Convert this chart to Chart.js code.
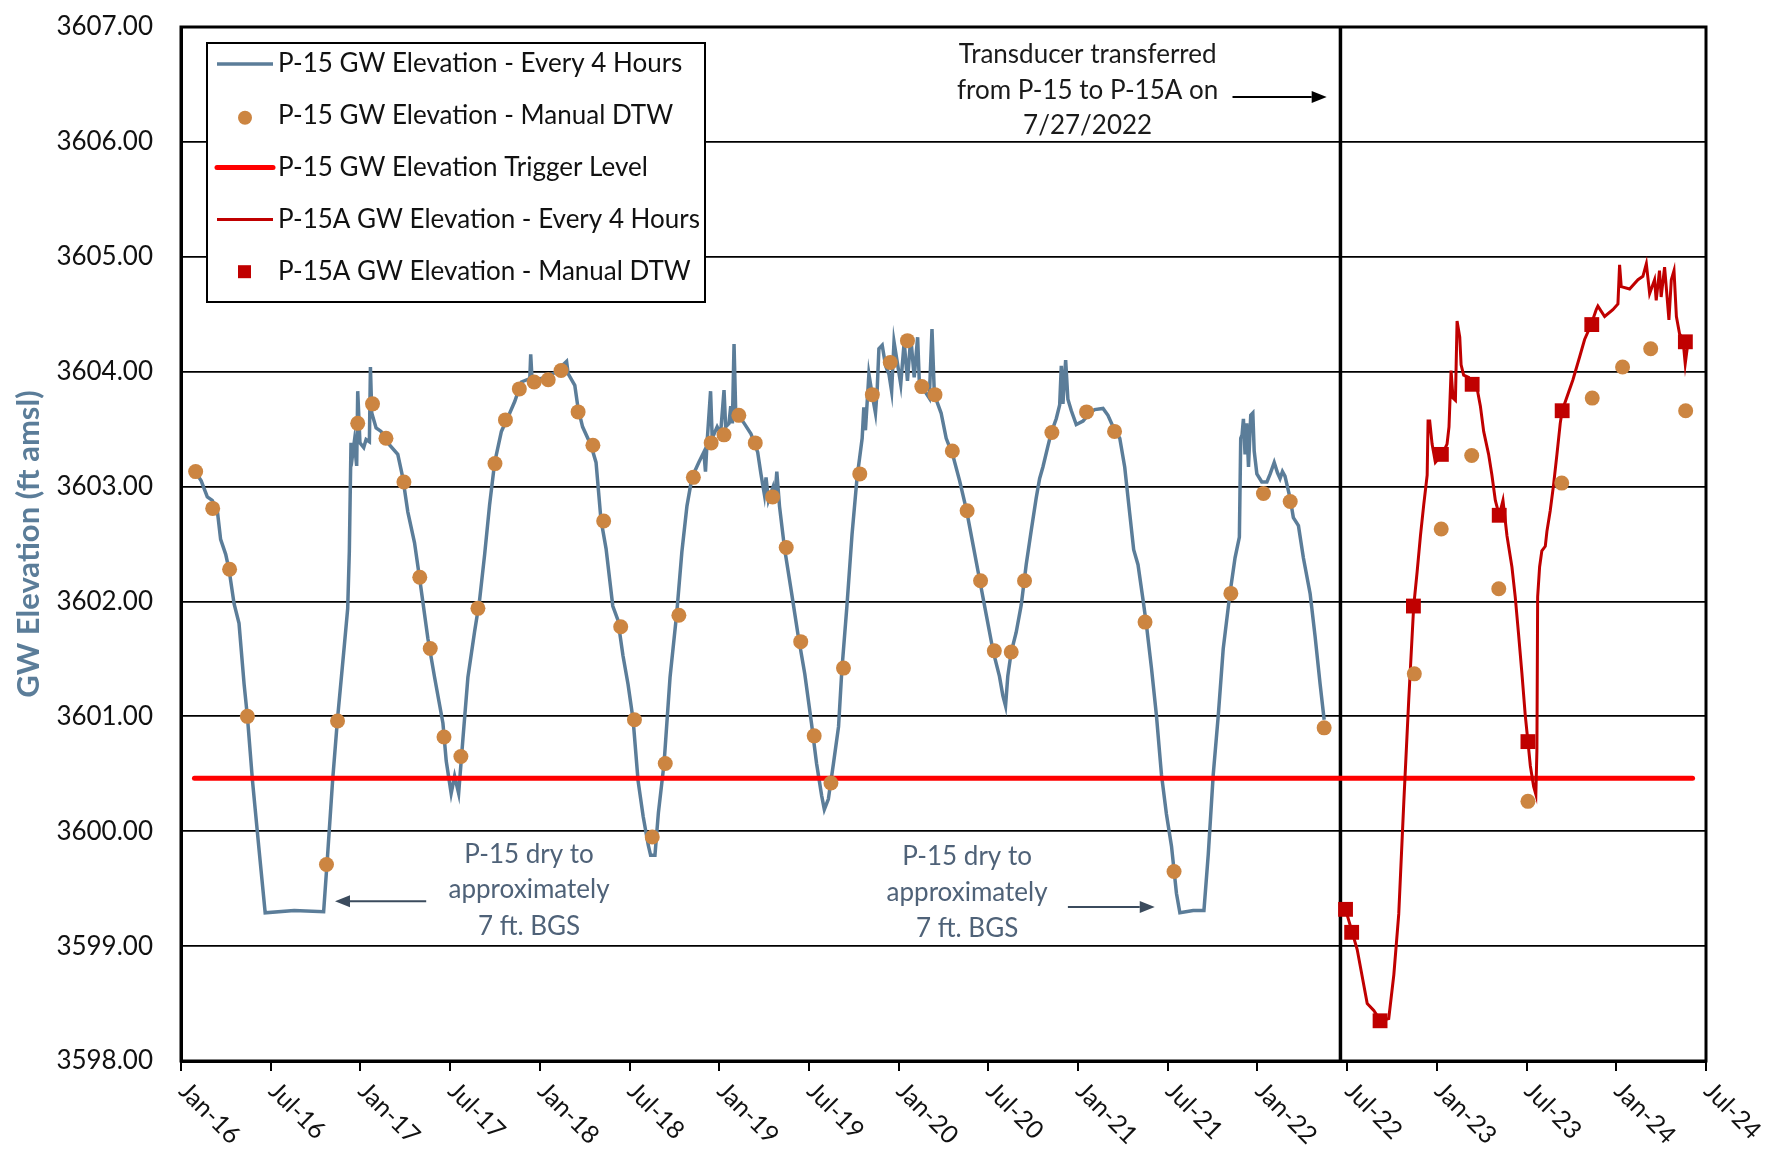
<!DOCTYPE html>
<html>
<head>
<meta charset="utf-8">
<title>P-15 / P-15A GW Elevation</title>
<script src="https://cdn.jsdelivr.net/npm/chart.js@4.4.1/dist/chart.umd.min.js"></script>
<style>
  html, body { margin: 0; padding: 0; background: #fff; }
  #wrap { width: 1766px; height: 1153px; }
</style>
</head>
<body>
<div id="wrap"><canvas id="chart" width="1766" height="1153"></canvas></div>
<script>
// ── Data ─────────────────────────────────────────────────
// x values are months since Jan-2016 (0 = Jan-16, 102 = Jul-24)
const tickLabels = [
  "Jan-16", "Jul-16", "Jan-17", "Jul-17", "Jan-18", "Jul-18",
  "Jan-19", "Jul-19", "Jan-20", "Jul-20", "Jan-21", "Jul-21",
  "Jan-22", "Jul-22", "Jan-23", "Jul-23", "Jan-24", "Jul-24",
];

// P-15 transducer, every 4 hours (traced)
const p15LoggerMonth = [
  1.00, 1.35, 1.76, 2.09, 2.43, 2.65, 2.99, 3.21, 3.55, 3.88, 4.22, 4.44, 4.78, 5.22, 5.63,
  7.57, 9.54, 9.80, 10.14, 10.47, 10.92, 11.15, 11.26, 11.37, 11.48, 11.59, 11.75, 11.82, 11.97,
  12.22, 12.38, 12.60, 12.67, 12.76, 13.05, 13.38, 13.83, 14.50, 14.83, 15.17, 15.62, 15.95,
  16.51, 16.96, 17.52, 17.74, 18.07, 18.30, 18.57, 18.86, 19.19, 19.64, 19.97, 20.31, 20.64,
  20.98, 21.43, 21.99, 22.32, 22.77, 23.33, 23.39, 23.48, 24.11, 25.00, 25.79, 25.90, 26.34,
  26.56, 26.86, 27.42, 27.76, 28.09, 28.43, 28.88, 29.22, 29.56, 29.90, 30.24, 30.57, 30.91,
  31.25, 31.41, 31.70, 31.93, 32.31, 32.71, 33.16, 33.50, 33.84, 34.18, 34.63, 34.97, 35.08,
  35.19, 35.42, 35.53, 35.86, 36.09, 36.32, 36.43, 36.65, 36.77, 36.88, 36.99, 37.10, 37.67,
  38.12, 38.57, 38.79, 39.02, 39.13, 39.29, 39.58, 39.70, 39.85, 40.03, 40.37, 40.82, 41.27,
  41.72, 42.17, 42.51, 42.85, 43.03, 43.30, 43.64, 43.98, 44.20, 44.54, 44.88, 45.22, 45.56,
  45.67, 45.78, 46.01, 46.23, 46.45, 46.56, 46.68, 46.90, 47.13, 47.35, 47.53, 47.69, 47.91,
  48.14, 48.37, 48.59, 48.81, 49.04, 49.27, 49.38, 49.60, 50.05, 50.23, 50.39, 50.84, 51.18,
  51.63, 52.08, 52.53, 52.98, 53.43, 53.88, 54.33, 54.74, 54.97, 55.15, 55.30, 55.53, 55.86,
  56.20, 56.53, 56.87, 57.20, 57.43, 57.65, 57.98, 58.21, 58.54, 58.77, 58.88, 58.99, 59.17,
  59.32, 59.55, 59.88, 60.33, 60.78, 61.11, 61.67, 62.00, 62.34, 62.79, 63.12, 63.46, 63.72,
  64.01, 64.35, 64.57, 64.91, 65.24, 65.58, 65.91, 66.25, 66.58, 66.81, 67.70, 68.42, 68.71,
  69.04, 69.38, 69.71, 70.16, 70.50, 70.79, 70.88, 70.97, 71.06, 71.17, 71.28, 71.40, 71.55,
  71.69, 71.78, 71.96, 72.29, 72.63, 72.85, 73.12, 73.34, 73.51, 73.67, 73.84, 74.18, 74.40,
  74.74, 75.07, 75.52, 75.85, 76.19, 76.46,
];
const p15LoggerElev = [
  3603.12, 3603.05, 3602.91, 3602.88, 3602.79, 3602.54, 3602.41, 3602.28, 3601.98, 3601.81, 3601.28, 3601.00, 3600.44, 3599.84, 3599.29,
  3599.31, 3599.30, 3599.78, 3600.44, 3600.98, 3601.61, 3601.94, 3602.44, 3603.38, 3603.28, 3603.39, 3603.18, 3603.83, 3603.38,
  3603.34, 3603.41, 3603.39, 3604.04, 3603.64, 3603.51, 3603.48, 3603.38, 3603.28, 3603.08, 3602.78, 3602.51, 3602.21,
  3601.68, 3601.34, 3600.94, 3600.61, 3600.33, 3600.48, 3600.33, 3600.81, 3601.34, 3601.74, 3602.01, 3602.41, 3602.84,
  3603.21, 3603.48, 3603.64, 3603.74, 3603.91, 3603.94, 3604.15, 3603.93, 3603.94, 3603.99, 3604.09, 3603.98, 3603.88,
  3603.68, 3603.52, 3603.36, 3603.21, 3602.71, 3602.46, 3601.96, 3601.84, 3601.53, 3601.28, 3600.97, 3600.44, 3600.13,
  3599.88, 3599.79, 3599.79, 3600.16, 3600.59, 3601.34, 3601.90, 3602.43, 3602.83, 3603.08, 3603.21, 3603.30, 3603.13,
  3603.39, 3603.83, 3603.42, 3603.52, 3603.46, 3603.84, 3603.52, 3603.55, 3603.70, 3603.55, 3604.24, 3603.66, 3603.55,
  3603.46, 3603.30, 3603.11, 3602.93, 3603.08, 3602.88, 3602.99, 3602.86, 3603.13, 3602.83, 3602.46, 3602.09, 3601.71,
  3601.37, 3600.94, 3600.59, 3600.31, 3600.19, 3600.28, 3600.59, 3600.91, 3601.40, 3601.96, 3602.58, 3603.08, 3603.42,
  3603.69, 3603.49, 3603.98, 3603.80, 3603.64, 3603.83, 3604.20, 3604.23, 3604.05, 3603.98, 3603.83, 3604.26, 3604.08,
  3603.89, 3604.26, 3603.92, 3604.30, 3603.95, 3604.30, 3603.92, 3603.86, 3603.77, 3604.37, 3603.80, 3603.64, 3603.42,
  3603.27, 3603.05, 3602.80, 3602.49, 3602.18, 3601.87, 3601.56, 3601.35, 3601.18, 3601.09, 3601.35, 3601.56, 3601.73,
  3601.97, 3602.32, 3602.62, 3602.90, 3603.07, 3603.17, 3603.35, 3603.47, 3603.59, 3603.71, 3604.05, 3603.72, 3604.10,
  3603.76, 3603.66, 3603.54, 3603.57, 3603.64, 3603.67, 3603.68, 3603.62, 3603.52, 3603.42, 3603.17, 3602.76, 3602.45,
  3602.32, 3602.01, 3601.80, 3601.42, 3601.01, 3600.49, 3600.15, 3599.87, 3599.46, 3599.29, 3599.31, 3599.31, 3599.80,
  3600.49, 3601.01, 3601.59, 3602.07, 3602.38, 3602.56, 3603.42, 3603.45, 3603.59, 3603.28, 3603.55, 3603.17, 3603.62,
  3603.64, 3603.31, 3603.11, 3603.04, 3603.04, 3603.11, 3603.21, 3603.12, 3603.07, 3603.13, 3603.09, 3602.90, 3602.73,
  3602.66, 3602.38, 3602.07, 3601.70, 3601.28, 3600.97,
];

// P-15 manual depth-to-water readings
const p15ManualMonth = [
  0.98, 2.12, 3.25, 4.44, 9.73, 10.47, 11.82, 12.81, 13.71, 14.91, 15.97, 16.67, 17.59, 18.72,
  19.86, 21.00, 21.70, 22.63, 23.62, 24.56, 25.42, 26.56, 27.55, 28.27, 29.41, 30.33, 31.52,
  32.39, 33.30, 34.27, 35.46, 36.32, 37.31, 38.41, 39.57, 40.48, 41.45, 42.35, 43.47, 44.31,
  45.40, 46.24, 47.44, 48.59, 49.55, 50.43, 51.59, 52.58, 53.48, 54.40, 55.53, 56.42, 58.25,
  60.57, 62.44, 64.48, 66.42, 70.22, 72.40, 74.19, 76.46, 82.49, 84.29, 86.33, 88.14, 90.09,
  92.35, 94.39, 96.42, 98.30, 100.64,
];
const p15ManualElev = [
  3603.13, 3602.81, 3602.28, 3601.00, 3599.71, 3600.96, 3603.55, 3603.72, 3603.42, 3603.04, 3602.21, 3601.59, 3600.82, 3600.65,
  3601.94, 3603.20, 3603.58, 3603.85, 3603.91, 3603.93, 3604.01, 3603.65, 3603.36, 3602.70, 3601.78, 3600.97, 3599.95,
  3600.59, 3601.88, 3603.08, 3603.38, 3603.45, 3603.62, 3603.38, 3602.91, 3602.47, 3601.65, 3600.83, 3600.42, 3601.42,
  3603.11, 3603.80, 3604.08, 3604.27, 3603.87, 3603.80, 3603.31, 3602.79, 3602.18, 3601.57, 3601.56, 3602.18, 3603.47,
  3603.65, 3603.48, 3601.82, 3599.65, 3602.07, 3602.94, 3602.87, 3600.90, 3601.37, 3602.63, 3603.27, 3602.11, 3600.26,
  3603.03, 3603.77, 3604.04, 3604.20, 3603.66,
];

// P-15 trigger level
const triggerMonth = [0.9, 101.1];
const triggerElev = [3600.46, 3600.46];

// P-15A transducer, every 4 hours (traced)
const p15aLoggerMonth = [
  77.89, 78.34, 78.67, 79.34, 79.78, 80.23, 80.78, 81.12, 81.45, 81.79, 82.12, 82.45, 82.68,
  82.90, 83.12, 83.35, 83.41, 83.52, 83.68, 83.90, 84.35, 84.68, 84.81, 84.95, 85.08, 85.24,
  85.35, 85.53, 85.62, 85.79, 86.13, 86.39, 86.68, 86.91, 87.13, 87.46, 87.68, 87.91, 88.17,
  88.42, 88.69, 89.02, 89.24, 89.46, 89.69, 89.91, 90.09, 90.25, 90.47, 90.62, 90.69, 90.74,
  90.87, 91.02, 91.25, 91.36, 91.58, 91.80, 92.03, 92.25, 92.38, 93.10, 93.55, 93.88, 94.32,
  94.66, 94.77, 95.22, 95.77, 96.11, 96.22, 96.33, 96.89, 97.45, 97.78, 98.01, 98.23, 98.56,
  98.67, 98.89, 99.00, 99.23, 99.34, 99.52, 99.68, 99.86, 100.02, 100.23, 100.46, 100.61, 100.79,
];
const p15aLoggerElev = [
  3599.32, 3599.12, 3598.97, 3598.50, 3598.44, 3598.35, 3598.37, 3598.75, 3599.28, 3600.26, 3601.15, 3601.96, 3602.26,
  3602.57, 3602.84, 3603.10, 3603.57, 3603.57, 3603.37, 3603.21, 3603.28, 3603.37, 3603.52, 3604.01, 3603.77, 3603.75,
  3604.44, 3604.30, 3604.06, 3603.97, 3603.95, 3603.89, 3603.86, 3603.70, 3603.48, 3603.28, 3603.10, 3602.88, 3602.75,
  3602.88, 3602.57, 3602.30, 3602.04, 3601.72, 3601.37, 3601.01, 3600.78, 3600.57, 3600.39, 3600.32, 3600.70, 3602.04,
  3602.30, 3602.44, 3602.48, 3602.61, 3602.79, 3603.01, 3603.28, 3603.55, 3603.66, 3603.93, 3604.13, 3604.28, 3604.41,
  3604.54, 3604.57, 3604.48, 3604.54, 3604.59, 3604.93, 3604.74, 3604.72, 3604.80, 3604.83, 3604.94, 3604.68, 3604.80,
  3604.62, 3604.88, 3604.65, 3604.91, 3604.74, 3604.45, 3604.80, 3604.88, 3604.48, 3604.33, 3604.28, 3604.07, 3604.25,
];

// P-15A manual depth-to-water readings
const p15aManualMonth = [77.89, 78.30, 80.20, 82.43, 84.30, 86.36, 88.17, 90.09, 92.38, 94.36, 100.62];
const p15aManualElev = [3599.32, 3599.12, 3598.35, 3601.96, 3603.28, 3603.89, 3602.75, 3600.78, 3603.66, 3604.41, 3604.26];

const transferMonth = 77.55;

// ── Style ────────────────────────────────────────────────
const FONT = "Lato, 'Open Sans', sans-serif";
const BLUE = "#5b7d99";
const ORANGE = "#cc8541";
const TRIGGER_RED = "#ff0000";
const DARK_RED = "#c00000";
const SLATE_TEXT = "#4f6278";
const SLATE_ARROW = "#3b4b5d";

const pts = (xs, ys) => xs.map((x, i) => ({ x, y: ys[i] }));

function arrow(ctx, x1, y1, x2, y2, color) {
  const ang = Math.atan2(y2 - y1, x2 - x1);
  const head = 15;
  ctx.save();
  ctx.strokeStyle = color;
  ctx.fillStyle = color;
  ctx.lineWidth = 2;
  ctx.beginPath();
  ctx.moveTo(x1, y1);
  ctx.lineTo(x2 - head * Math.cos(ang), y2 - head * Math.sin(ang));
  ctx.stroke();
  ctx.beginPath();
  ctx.moveTo(x2, y2);
  ctx.lineTo(x2 - head * Math.cos(ang) + 6 * Math.sin(ang), y2 - head * Math.sin(ang) - 6 * Math.cos(ang));
  ctx.lineTo(x2 - head * Math.cos(ang) - 6 * Math.sin(ang), y2 - head * Math.sin(ang) + 6 * Math.cos(ang));
  ctx.closePath();
  ctx.fill();
  ctx.restore();
}

function textLines(ctx, xs, ys, x, vals, lines, color) {
  ctx.save();
  ctx.fillStyle = color;
  ctx.font = `26px ${FONT}`;
  ctx.textAlign = "center";
  ctx.textBaseline = "middle";
  lines.forEach((t, i) => ctx.fillText(t, xs.getPixelForValue(x), ys.getPixelForValue(vals[i])));
  ctx.restore();
}

// ── Decorations: frame, transfer line, notes, legend, rotated x labels ──
const decor = {
  id: "decor",
  beforeDraw(chart) {
    const { ctx, width, height } = chart;
    ctx.save();
    ctx.fillStyle = "#fff";
    ctx.fillRect(0, 0, width, height);
    ctx.restore();
  },
  beforeDatasetsDraw(chart) {
    const { ctx, chartArea: a, scales } = chart;
    const x = scales.x.getPixelForValue(transferMonth);
    ctx.save();
    ctx.strokeStyle = "#000";
    ctx.lineWidth = 3.5;
    ctx.beginPath();
    ctx.moveTo(x, a.top);
    ctx.lineTo(x, a.bottom);
    ctx.stroke();
    ctx.restore();
  },
  afterDraw(chart) {
    const { ctx, chartArea: a, scales: { x: xs, y: ys } } = chart;

    // plot frame
    ctx.save();
    ctx.strokeStyle = "#000";
    ctx.lineWidth = 3;
    ctx.strokeRect(a.left, a.top, a.right - a.left, a.bottom - a.top);
    ctx.restore();

    // notes
    textLines(ctx, xs, ys, 60.64, [3606.76, 3606.45, 3606.14],
      ["Transducer transferred", "from P-15 to P-15A on", "7/27/2022"], "#1a1a1a");
    arrow(ctx, xs.getPixelForValue(70.33), ys.getPixelForValue(3606.39),
      xs.getPixelForValue(76.63), ys.getPixelForValue(3606.39), "#000");

    textLines(ctx, xs, ys, 23.28, [3599.80, 3599.49, 3599.17],
      ["P-15 dry to", "approximately", "7 ft. BGS"], SLATE_TEXT);
    arrow(ctx, xs.getPixelForValue(16.4), ys.getPixelForValue(3599.39),
      xs.getPixelForValue(10.3), ys.getPixelForValue(3599.39), SLATE_ARROW);

    textLines(ctx, xs, ys, 52.58, [3599.78, 3599.47, 3599.15],
      ["P-15 dry to", "approximately", "7 ft. BGS"], SLATE_TEXT);
    arrow(ctx, xs.getPixelForValue(59.32), ys.getPixelForValue(3599.34),
      xs.getPixelForValue(65.13), ys.getPixelForValue(3599.34), SLATE_ARROW);

    // legend
    const bx = a.left + 26, by = a.top + 16, bw = 498, bh = 259;
    ctx.save();
    ctx.fillStyle = "#fff";
    ctx.fillRect(bx, by, bw, bh);
    ctx.strokeStyle = "#000";
    ctx.lineWidth = 2;
    ctx.strokeRect(bx, by, bw, bh);
    ctx.font = `26px ${FONT}`;
    ctx.textBaseline = "middle";
    ctx.textAlign = "left";
    chart.data.datasets.forEach((ds, i) => {
      const cy = by + 21 + i * 51.8;
      if (ds.showLine) {
        ctx.strokeStyle = ds.borderColor;
        ctx.lineWidth = ds.borderWidth;
        ctx.lineCap = ds.borderCapStyle || "butt";
        ctx.beginPath();
        ctx.moveTo(bx + 10, cy);
        ctx.lineTo(bx + 66, cy);
        ctx.stroke();
      } else if (ds.pointStyle === "rect") {
        ctx.fillStyle = ds.backgroundColor;
        ctx.fillRect(bx + 31, cy - 6, 13, 13);
      } else {
        ctx.fillStyle = ds.backgroundColor;
        ctx.beginPath();
        ctx.arc(bx + 38, cy + 2, 7, 0, Math.PI * 2);
        ctx.fill();
      }
      ctx.fillStyle = "#111";
      ctx.fillText(ds.label, bx + 71, cy);
    });
    ctx.restore();

    // x tick labels, rotated down to the right
    ctx.save();
    ctx.fillStyle = "#111";
    ctx.font = `25px ${FONT}`;
    ctx.textAlign = "left";
    ctx.textBaseline = "top";
    xs.ticks.forEach((t) => {
      const label = tickLabels[Math.round(t.value / 6)];
      if (!label) return;
      ctx.save();
      ctx.translate(xs.getPixelForValue(t.value) + 11, a.bottom + 17);
      ctx.rotate(Math.PI / 4);
      ctx.fillText(label, 0, 0);
      ctx.restore();
    });
    ctx.restore();
  },
};

// ── Chart ────────────────────────────────────────────────
new Chart(document.getElementById("chart"), {
  type: "scatter",
  data: {
    datasets: [
      {
        label: "P-15 GW Elevation - Every 4 Hours",
        data: pts(p15LoggerMonth, p15LoggerElev),
        showLine: true, borderColor: BLUE, backgroundColor: BLUE, borderWidth: 3.5,
        pointRadius: 0, tension: 0, order: 4,
      },
      {
        label: "P-15 GW Elevation - Manual DTW",
        data: pts(p15ManualMonth, p15ManualElev),
        showLine: false, pointStyle: "circle", pointRadius: 7.5,
        backgroundColor: ORANGE, borderColor: ORANGE, borderWidth: 0, order: 1,
      },
      {
        label: "P-15 GW Elevation Trigger Level",
        data: pts(triggerMonth, triggerElev),
        showLine: true, borderColor: TRIGGER_RED, backgroundColor: TRIGGER_RED, borderWidth: 5,
        borderCapStyle: "round", pointRadius: 0, order: 3,
      },
      {
        label: "P-15A GW Elevation - Every 4 Hours",
        data: pts(p15aLoggerMonth, p15aLoggerElev),
        showLine: true, borderColor: DARK_RED, backgroundColor: DARK_RED, borderWidth: 3,
        pointRadius: 0, tension: 0, order: 2,
      },
      {
        label: "P-15A GW Elevation - Manual DTW",
        data: pts(p15aManualMonth, p15aManualElev),
        showLine: false, pointStyle: "rect", pointRadius: 10.5,
        backgroundColor: DARK_RED, borderColor: DARK_RED, borderWidth: 0, order: 0,
      },
    ],
  },
  options: {
    responsive: false,
    animation: false,
    devicePixelRatio: 1,
    layout: { padding: { top: 27, right: 60, left: 0, bottom: 0 } },
    plugins: { legend: { display: false }, tooltip: { enabled: false } },
    scales: {
      x: {
        type: "linear", min: 0, max: 102,
        ticks: { stepSize: 6, display: false },
        grid: { drawOnChartArea: false, drawTicks: true, tickLength: 10, color: "#000", lineWidth: 2 },
        border: { display: true, color: "#000", width: 3 },
        afterFit: (s) => { s.height = 92; },
      },
      y: {
        min: 3598, max: 3607,
        ticks: {
          stepSize: 1, padding: 2, color: "#111",
          font: { family: FONT, size: 26 },
          callback: (v) => v.toFixed(2),
        },
        // invisible tick marks keep the labels off the axis without adding top padding
        grid: { color: "#000", lineWidth: 1.8, drawTicks: true, tickLength: 26, tickColor: "rgba(0,0,0,0)" },
        border: { color: "#000", width: 3 },
        title: {
          display: true, text: "GW Elevation (ft amsl)", color: BLUE,
          font: { family: FONT, size: 31, weight: "bold" },
          padding: { top: 10, bottom: 0 },
        },
        afterFit: (s) => { s.width = 181; },
      },
    },
  },
  plugins: [decor],
});
</script>
</body>
</html>
